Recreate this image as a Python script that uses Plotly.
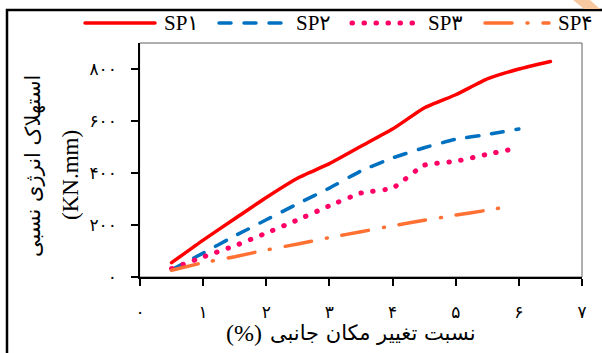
import plotly.graph_objects as go

# ---- data ----
x_sp1 = [0.5, 1.0, 1.5, 2.0, 2.5, 3.0, 3.5, 4.0, 4.5, 5.0, 5.5, 6.0, 6.5]
sp1 = [55, 142, 224, 306, 381, 436, 503, 569, 650, 701, 762, 800, 829]
x_sp2 = [0.5, 1.0, 1.5, 2.0, 2.5, 3.0, 3.5, 4.0, 4.5, 5.0, 5.5, 6.0]
sp2 = [28, 92, 158, 220, 282, 342, 408, 458, 497, 530, 548, 569]
x_sp3 = [0.5, 1.0, 1.5, 2.0, 2.5, 3.0, 3.5, 4.0, 4.5, 5.0, 5.5, 6.0]
sp3 = [32, 77, 120, 169, 220, 274, 323, 342, 430, 445, 472, 497]
x_sp4 = [0.5, 1.0, 1.5, 2.0, 2.5, 3.0, 3.5, 4.0, 4.5, 5.0, 5.5, 5.85]
sp4 = [26, 55, 78, 104, 127, 152, 174, 197, 218, 238, 257, 272]

series_names = ["SP۱", "SP۲", "SP۳", "SP۴"]
x_ticks = [0, 1, 2, 3, 4, 5, 6, 7]
x_tick_labels = ["۰", "۱", "۲", "۳", "۴", "۵", "۶", "۷"]
y_ticks = [0, 200, 400, 600, 800]
y_tick_labels = ["۰", "۲۰۰", "۴۰۰", "۶۰۰", "۸۰۰"]
x_title_fa = "نسبت تغییر مکان جانبی"
x_title_unit = "(%)"
y_title_fa = "استهلاک انرژی نسبی"
y_title_unit = "(KN.mm)"

# ---- styles ----
W, H = 602, 353
L, R, T, B = 140, 20, 43, 76
PW, PH = W - L - R, H - T - B

def px(xp):
    return (xp - L) / PW

def py(yp):
    return (H - B - yp) / PH

styles = [
    dict(color="#FF0000", width=3.5, dash="solid"),
    dict(color="#0070C0", width=3.5, dash="12px,13px"),
    dict(color="#FF0066", width=5, dash="0.5px,11.5px"),
    dict(color="#FF7033", width=3.5, dash="27px,15px,1px,15px"),
]

fig = go.Figure()
for xs, ys, name, st in zip([x_sp1, x_sp2, x_sp3, x_sp4], [sp1, sp2, sp3, sp4], series_names, styles):
    fig.add_trace(go.Scatter(x=xs, y=ys, mode="lines", name=name, showlegend=False,
                             line=dict(color=st["color"], width=st["width"], dash=st["dash"],
                                       shape="spline", smoothing=0.4)))

serif = "Liberation Serif, DejaVu Sans, serif"
fig.update_layout(
    width=W, height=H,
    margin=dict(l=L, r=R, t=T, b=B, pad=0),
    paper_bgcolor="white", plot_bgcolor="white",
    font=dict(family=serif, color="black", size=16),
    xaxis=dict(range=[0, 7], tickvals=x_ticks, ticktext=x_tick_labels,
               showgrid=False, zeroline=False, showline=True, linecolor="black", linewidth=1.5,
               ticks="outside", ticklen=7, tickwidth=1.5, tickcolor="black",
               tickfont=dict(size=17, family=serif), ticklabelstandoff=12),
    yaxis=dict(range=[0, 900], tickvals=y_ticks, ticktext=y_tick_labels,
               showgrid=False, zeroline=False, showline=True, linecolor="black", linewidth=1.5,
               ticks="outside", ticklen=7, tickwidth=1.5, tickcolor="black",
               tickfont=dict(size=17, family=serif), ticklabelstandoff=11),
)

shapes = []
# plot frame (top/right grey)
shapes.append(dict(type="rect", xref="paper", yref="paper", x0=0, x1=1, y0=0, y1=1,
                   line=dict(color="#606060", width=1), layer="below"))
# outer chart border
shapes.append(dict(type="rect", xref="paper", yref="paper", x0=px(7), x1=px(640), y0=py(400), y1=py(10),
                   line=dict(color="black", width=2.5)))
# peach fragment at top-right corner
shapes.append(dict(type="path", xref="paper", yref="paper",
                   path=f"M{px(573)},{py(0)} L{px(590)},{py(0)} L{px(600)},{py(9)} L{px(584)},{py(9)} Z",
                   fillcolor="#F8C8A0", line=dict(width=0)))

# custom legend
leg_y = py(23)
leg_items = [(85, 155, 162), (219, 284, 294), (352, 415, 426), (485, 549, 556)]
annotations = []
for (a, b, t), name, st in zip(leg_items, series_names, styles):
    shapes.append(dict(type="line", xref="paper", yref="paper", x0=px(a), x1=px(b), y0=leg_y, y1=leg_y,
                       line=dict(color=st["color"], width=st["width"], dash=st["dash"])))
    annotations.append(dict(xref="paper", yref="paper", x=px(t), y=leg_y, xanchor="left", yanchor="middle",
                            text=name, showarrow=False, font=dict(family=serif, size=21, color="black")))

# axis titles
annotations.append(dict(xref="paper", yref="paper", x=px(33), y=py(166), text=y_title_fa, textangle=-90,
                        showarrow=False, xanchor="center", yanchor="middle",
                        font=dict(family="DejaVu Sans, sans-serif", size=21, color="black")))
annotations.append(dict(xref="paper", yref="paper", x=px(70), y=py(175), text=y_title_unit, textangle=-90,
                        showarrow=False, xanchor="center", yanchor="middle",
                        font=dict(family=serif, size=23, color="black")))
annotations.append(dict(xref="paper", yref="paper", x=px(264), y=py(333), text=x_title_unit,
                        showarrow=False, xanchor="right", yanchor="middle",
                        font=dict(family=serif, size=24, color="black")))
annotations.append(dict(xref="paper", yref="paper", x=px(268), y=py(333), text=x_title_fa,
                        showarrow=False, xanchor="left", yanchor="middle",
                        font=dict(family="DejaVu Sans, sans-serif", size=21, color="black")))

fig.update_layout(shapes=shapes, annotations=annotations)

post = """
document.body.style.margin = '0';
var gd = document.getElementById('{plot_id}');
gd.querySelectorAll('path.js-line').forEach(function(p){ p.style.strokeLinecap = 'round'; });
gd.querySelectorAll('.shapelayer path').forEach(function(p){ p.style.strokeLinecap = 'round'; });
"""
fig.write_html("out.html", post_script=post, config={"displayModeBar": False})
